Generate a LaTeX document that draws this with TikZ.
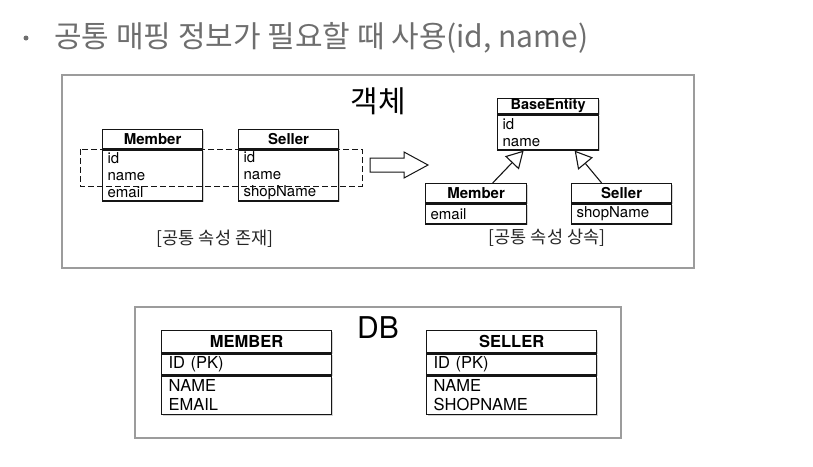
\documentclass[tikz,border=0pt]{standalone}
\usepackage{fontspec}
\setmainfont{TeX Gyre Heros}
\newfontfamily\kr{Noto Sans CJK KR}
\usetikzlibrary{arrows.meta,shadows,positioning}
\definecolor{ink}{HTML}{151515}
\definecolor{titlegray}{HTML}{6E6E6E}
\definecolor{framegray}{HTML}{9C9C9C}
\definecolor{labgray}{HTML}{262626}
\tikzset{panel/.style={draw=framegray,line width=1.2pt},
shade/.style={drop shadow={shadow xshift=1.5pt,shadow yshift=-1.5pt,opacity=.35}},
clshead/.style={draw=ink,line width=1.3pt,fill=white,shade,anchor=north west,inner sep=0pt,
  font=\bfseries\fontsize{15}{17}\selectfont},
clsbody/.style={draw=ink,line width=1.3pt,fill=white,shade,anchor=north west,inner xsep=5pt,
  inner ysep=0pt,align=left,font=\fontsize{15}{17}\selectfont},
tblhead/.style={clshead,font=\bfseries\fontsize{16.5}{19}\selectfont},
tblbody/.style={clsbody,inner xsep=7pt,font=\fontsize{16.5}{19}\selectfont},
inherit/.style={-{Triangle[open,length=17pt,width=19pt]},ink,line width=1.1pt},
lab/.style={font=\kr\fontsize{17.5}{19}\selectfont,text=labgray}}

\begin{document}
\begin{tikzpicture}[x=1pt,y=-1pt]
\useasboundingbox (0,0) rectangle (813,466);
% title line
\node[circle,fill=titlegray,inner sep=0pt,minimum size=5pt] (bullet) at (26,38) {};
\node[anchor=base west,inner sep=0pt,text=titlegray,font=\kr\fontsize{30}{32}\selectfont]
  (title) at (54,47) {공통 매핑 정보가 필요할 때 사용(id, name)};

% object side
\draw[panel] (62,75) rectangle (694,268);
\node[font=\kr\fontsize{30}{32}\selectfont] (objlab) at (378,101) {객체};
\foreach \x/\id/\nm/\at in {102/lmem/Member/email,238/lsel/Seller/shopName}{
  \node[clshead,minimum width=100,minimum height=19] (\id h) at (\x,129) {\nm};
  \node[clsbody,text width=90pt,minimum height=51] (\id b) at (\id h.south west) {id\\name\\\at};
}
\draw[ink,line width=1pt,dash pattern=on 6pt off 3pt] (80,149) rectangle (362,186);
\node[lab] (leftlab) at (215,239) {[공통 속성 존재]};

\draw[ink,line width=1pt,fill=white] (370,158) -- (404,158) -- (404,152) -- (428,165)
  -- (404,178) -- (404,172) -- (370,172) -- cycle;

\node[clshead,minimum width=101,minimum height=15,font=\bfseries\fontsize{14.5}{16}\selectfont]
  (baseh) at (497,98) {BaseEntity};
\node[clsbody,text width=91pt,minimum height=35] (baseb) at (baseh.south west) {id\\name};
\node[clshead,minimum width=101,minimum height=19] (rmemh) at (425,183) {Member};
\node[clsbody,text width=91pt,minimum height=20] (rmemb) at (rmemh.south west) {email};
\node[clshead,minimum width=100,minimum height=19] (rselh) at (571,183) {Seller};
\node[clsbody,text width=90pt,minimum height=20] (rselb) at (rselh.south west) {shopName};
\draw[inherit] ([xshift=16.5pt]rmemh.north) -- ([xshift=-24.5pt]baseb.south);
\draw[inherit] ([xshift=-20pt]rselh.north) -- ([xshift=26.5pt]baseb.south);
\node[lab] (rightlab) at (547,238) {[공통 속성 상속]};

% database side
\draw[panel] (135,307) rectangle (621,438);
\node[font=\fontsize{30}{32}\selectfont] (dblab) at (378,328) {DB};
\foreach \x/\id/\nm/\at in {161/dmem/MEMBER/EMAIL,426/dsel/SELLER/SHOPNAME}{
  \node[tblhead,minimum width=170,minimum height=22] (\id h) at (\x,330) {\nm};
  \node[tblbody,text width=156pt,minimum height=21] (\id k) at (\id h.south west) {ID (PK)};
  \node[tblbody,text width=156pt,minimum height=38] (\id b) at (\id k.south west) {NAME\\\at};
}
\end{tikzpicture}
\end{document}
